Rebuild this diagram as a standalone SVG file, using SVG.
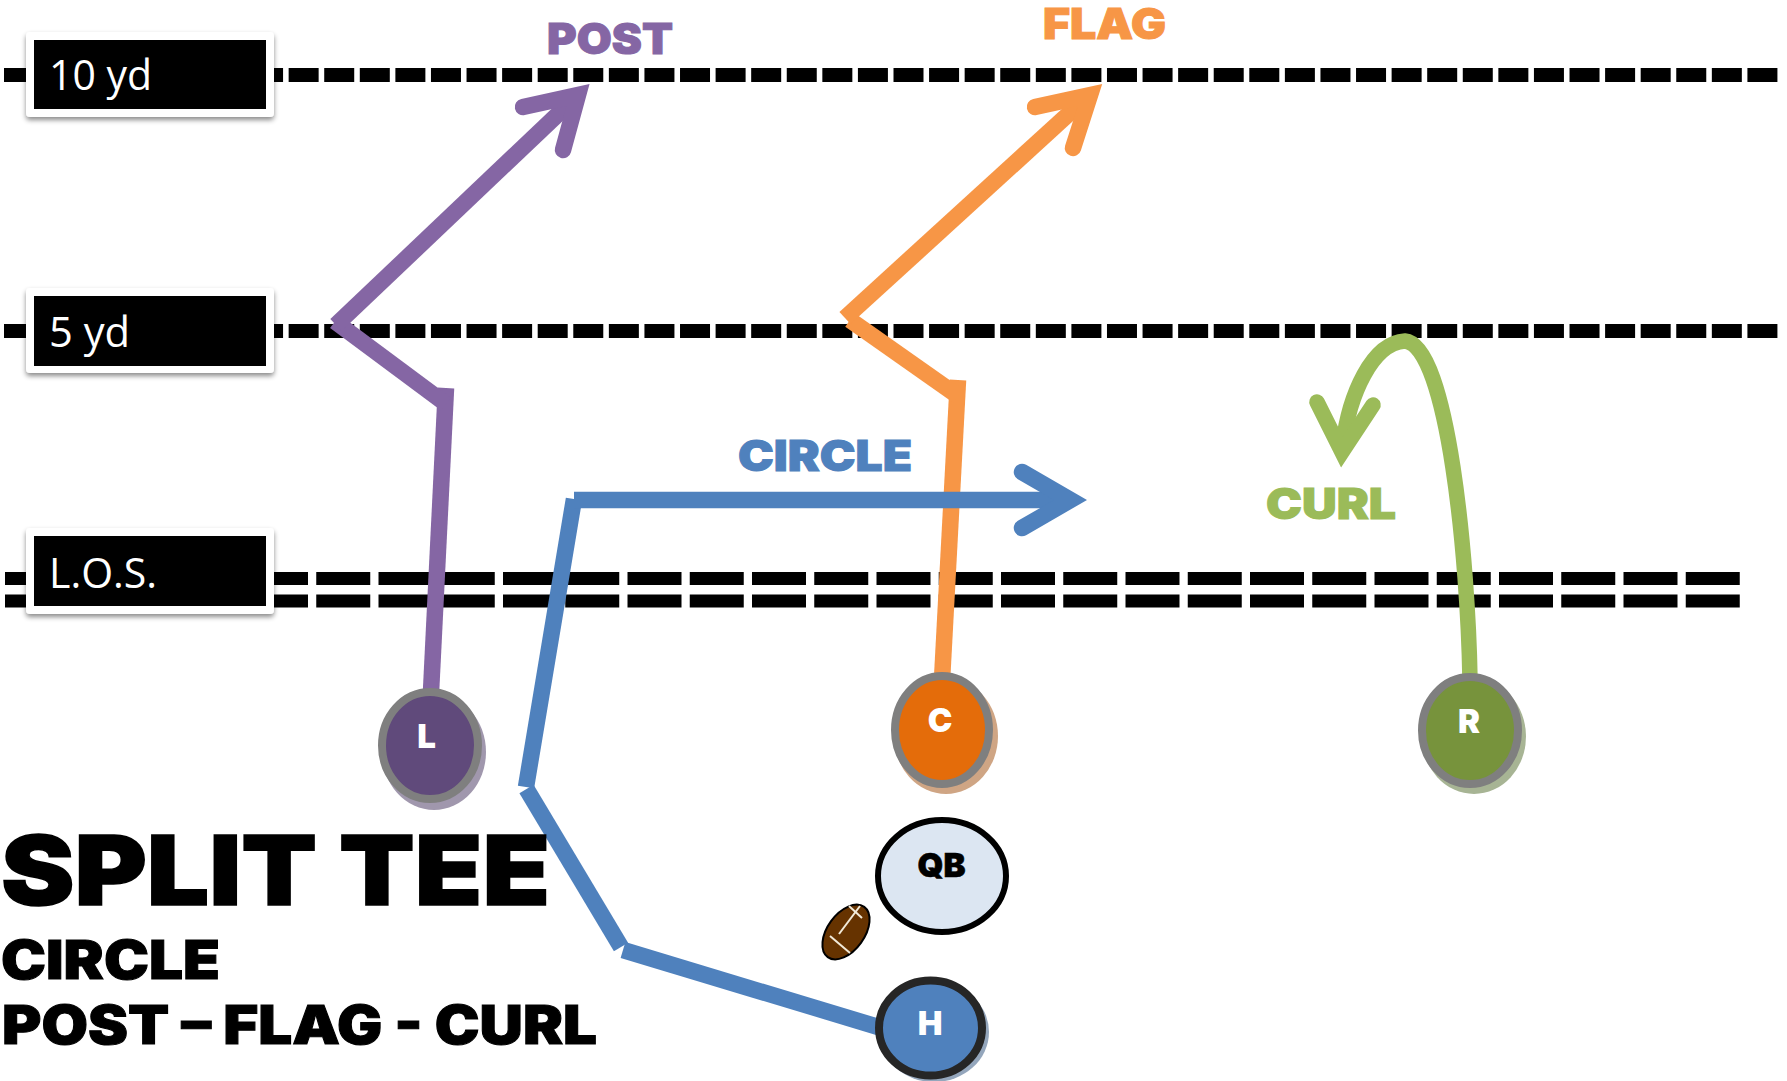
<svg xmlns="http://www.w3.org/2000/svg" width="1787" height="1081" viewBox="0 0 1787 1081">
<defs>
<style>
.b{font-family:"Inter","Liberation Sans",Arial,sans-serif;font-weight:900}
.r{fill:none;stroke-linecap:butt}
.rr{fill:none;stroke-linecap:round;stroke-linejoin:miter;stroke-miterlimit:6}
.lab{font-family:"Open Sans","Noto Sans",sans-serif;fill:#fff;font-size:42px}
.box{fill:#fff;stroke:none;filter:url(#sh)}
</style>
<filter id="sh" x="-10%" y="-20%" width="120%" height="140%"><feDropShadow dx="0" dy="3" stdDeviation="2.5" flood-color="#000" flood-opacity=".45"/></filter>
</defs>
<rect width="1787" height="1081" fill="#fff"/>
<g id="lines">
<line x1="4" y1="75" x2="1778" y2="75" stroke="#000" stroke-width="14" stroke-dasharray="30 5.58"/>
<line x1="4" y1="331" x2="1778" y2="331" stroke="#000" stroke-width="14" stroke-dasharray="30 5.58"/>
<line x1="5" y1="578.5" x2="1741" y2="578.5" stroke="#000" stroke-width="13" stroke-dasharray="54 8.25"/>
<line x1="5" y1="601" x2="1741" y2="601" stroke="#000" stroke-width="13" stroke-dasharray="54 8.25"/>
</g>
<g id="label-10yd"><rect class="box" x="26" y="32" width="248" height="85" rx="4"/><rect x="34" y="40" width="232" height="69"/><text class="lab" x="49" y="90" textLength="103" lengthAdjust="spacingAndGlyphs">10 yd</text></g>
<g id="label-5yd"><rect class="box" x="26" y="288" width="248" height="85" rx="4"/><rect x="34" y="296" width="232" height="70"/><text class="lab" x="49" y="347" textLength="81" lengthAdjust="spacingAndGlyphs">5 yd</text></g>
<g id="label-los"><rect class="box" x="26" y="528" width="248" height="86" rx="4"/><rect x="34" y="536" width="232" height="70"/><text class="lab" x="49" y="588" textLength="108" lengthAdjust="spacingAndGlyphs">L.O.S.</text></g>
<g id="connectors">
<g stroke="#8566A4" stroke-width="16.5">
<path class="r" d="M431 692 L446 388"/>
<path class="r" d="M446 404 L335 321.5"/>
<path class="r" d="M336 325 L575 98"/>
<path class="rr" d="M523 107 L578 95 L563 150"/>
</g>
<g stroke="#F79646" stroke-width="16.5">
<path class="r" d="M942 680 L958 380"/>
<path class="r" d="M958 396 L850 320"/>
<path class="r" d="M845 318 L1085 99"/>
<path class="rr" d="M1035 107 L1090 95 L1073 148"/>
</g>
<g stroke="#4F81BD" stroke-width="16.5">
<path class="r" d="M880 1027.5 L623 950"/>
<path class="r" d="M621 947 L526.5 789"/>
<path class="r" d="M526 787 L574 499"/>
<path class="r" d="M574 500 L1065 500"/>
<path class="rr" d="M1022 472 L1070.5 500 L1022 528"/>
</g>
<g stroke="#9BBB59" stroke-width="15.5">
<path class="r" d="M1470 680 C1468 560 1448 345 1405 341 C1372 343 1349 395 1343 445"/>
<path class="rr" d="M1317 402 L1342 452 L1373 405"/>
</g>
</g>
<g id="node-L"><ellipse cx="434" cy="752" rx="52" ry="58" fill="#A097AD"/><ellipse cx="430" cy="745.5" rx="48" ry="53.5" fill="#604A7B" stroke="#7F7F7F" stroke-width="8"/><text class="b" x="426.5" y="748" font-size="33" fill="#fff" text-anchor="middle">L</text></g>
<g id="node-C"><ellipse cx="946" cy="736" rx="52" ry="58" fill="#CFA584"/><ellipse cx="942" cy="730" rx="47" ry="54" fill="#E46C0A" stroke="#7F7F7F" stroke-width="8"/><text class="b" x="940" y="732" font-size="33" fill="#fff" text-anchor="middle">C</text></g>
<g id="node-R"><ellipse cx="1474" cy="736.5" rx="52" ry="57.5" fill="#A7B494"/><ellipse cx="1470" cy="730.5" rx="48" ry="53.5" fill="#77933C" stroke="#7F7F7F" stroke-width="8"/><text class="b" x="1469" y="733" font-size="33" fill="#fff" text-anchor="middle">R</text></g>
<g id="node-QB"><ellipse cx="942" cy="876" rx="64" ry="56" fill="#DCE6F2" stroke="#000" stroke-width="6"/><text class="b" x="941.5" y="877" font-size="33" fill="#000" stroke="#000" stroke-width=".6" text-anchor="middle">QB</text></g>
<g id="node-H"><ellipse cx="934" cy="1032" rx="55" ry="50" fill="#94A6BC"/><ellipse cx="930.5" cy="1028" rx="51.5" ry="47.5" fill="#4F81BD" stroke="#262626" stroke-width="8"/><text class="b" x="930" y="1035" font-size="33" fill="#fff" text-anchor="middle">H</text></g>
<g id="football"><ellipse cx="846" cy="932" rx="18.5" ry="31" transform="rotate(36 846 932)" fill="#663300" stroke="#000" stroke-width="2"/><g stroke="#f2ead8" stroke-width="2"><line x1="839" y1="934" x2="860" y2="906"/><line x1="849" y1="906" x2="862" y2="918"/><line x1="830" y1="936" x2="850" y2="953"/></g></g>
<g id="texts">
<text class="b" x="547" y="53.5" font-size="42" fill="#8566A4" stroke="#8566A4" stroke-width="1" textLength="126" lengthAdjust="spacingAndGlyphs">POST</text>
<text class="b" x="1043" y="38.5" font-size="42" fill="#F79646" stroke="#F79646" stroke-width="1" textLength="123" lengthAdjust="spacingAndGlyphs">FLAG</text>
<text class="b" x="738" y="470.5" font-size="42" fill="#4F81BD" stroke="#4F81BD" stroke-width="1" textLength="174" lengthAdjust="spacingAndGlyphs">CIRCLE</text>
<text class="b" x="1266" y="518.5" font-size="42" fill="#9BBB59" stroke="#9BBB59" stroke-width="1" textLength="130" lengthAdjust="spacingAndGlyphs">CURL</text>
<text class="b" x="1" y="905" font-size="96" fill="#000" stroke="#000" stroke-width="1.5" textLength="549" lengthAdjust="spacingAndGlyphs">SPLIT TEE</text>
<text class="b" x="1" y="979" font-size="53" fill="#000" stroke="#000" stroke-width="1" textLength="219" lengthAdjust="spacingAndGlyphs">CIRCLE</text>
<text class="b" x="2" y="1044" font-size="53" fill="#000" stroke="#000" stroke-width="1" textLength="595" lengthAdjust="spacingAndGlyphs">POST – FLAG - CURL</text>
</g>
</svg>
